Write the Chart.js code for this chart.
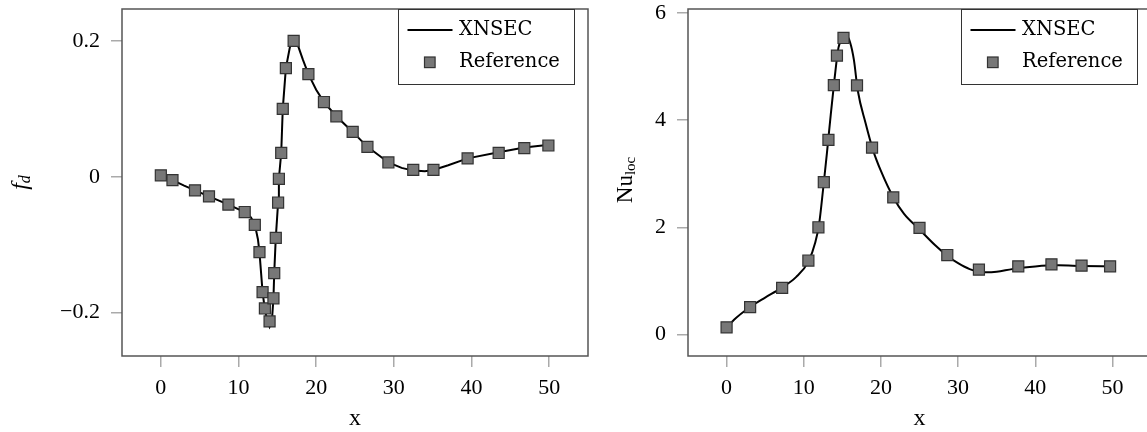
<!DOCTYPE html>
<html>
<head>
<meta charset="utf-8">
<script src="https://cdn.jsdelivr.net/npm/chart.js@4.4.0/dist/chart.umd.min.js"></script>
<style>
  html, body { margin: 0; padding: 0; background: #fff; overflow: hidden; width: 1147px; height: 432px; }
  #left { position: absolute; left: 0; top: 0; }
  #right { position: absolute; left: 600px; top: 0; }
</style>
</head>
<body>
<canvas id="left" width="600" height="432"></canvas>
<canvas id="right" width="560" height="432"></canvas>
<script>
// ---- left panel: drag coefficient f_d ----
const refLeftX = [0, 1.5, 4.4, 6.2, 8.7, 10.8, 12.1, 12.7, 13.1, 13.4, 14.0, 14.5, 14.6, 14.8, 15.1, 15.2, 15.5, 15.7, 16.1, 17.1, 19.0, 21.0, 22.6, 24.7, 26.6, 29.3, 32.5, 35.1, 39.5, 43.5, 46.8, 49.9];
const refLeftY = [0.002, -0.005, -0.020, -0.029, -0.041, -0.052, -0.071, -0.111, -0.170, -0.194, -0.213, -0.179, -0.142, -0.090, -0.038, -0.003, 0.035, 0.100, 0.160, 0.200, 0.151, 0.110, 0.089, 0.066, 0.044, 0.021, 0.010, 0.010, 0.027, 0.035, 0.042, 0.046];

const lineLeftX = [0, 1.5, 3, 4.4, 6.2, 8.7, 10.8, 11.6, 12.1, 12.5, 12.7, 13.1, 13.4, 13.7, 14.0, 14.3, 14.5, 14.6, 14.8, 15.1, 15.2, 15.5, 15.7, 16.1, 16.6, 17.1, 17.6, 18.3, 19.0, 20.0, 21.0, 22.6, 24.7, 26.6, 29.3, 31.0, 32.5, 34.0, 35.1, 37.0, 39.5, 43.5, 46.8, 50.0];
const lineLeftY = [0.002, -0.005, -0.013, -0.020, -0.029, -0.041, -0.052, -0.060, -0.070, -0.092, -0.111, -0.170, -0.196, -0.212, -0.221, -0.212, -0.179, -0.142, -0.090, -0.038, -0.003, 0.035, 0.100, 0.160, 0.190, 0.204, 0.195, 0.172, 0.151, 0.128, 0.110, 0.089, 0.066, 0.044, 0.021, 0.013, 0.009, 0.008, 0.010, 0.017, 0.027, 0.036, 0.043, 0.047];

// ---- right panel: local Nusselt number ----
const refRightX = [0, 3.05, 7.2, 10.6, 11.9, 12.6, 13.2, 13.9, 14.3, 15.15, 16.9, 18.85, 21.6, 25.0, 28.6, 32.7, 37.8, 42.1, 46.0, 49.7];
const refRightY = [0.135, 0.51, 0.87, 1.38, 2.0, 2.84, 3.63, 4.65, 5.20, 5.53, 4.645, 3.485, 2.558, 1.99, 1.483, 1.21, 1.272, 1.309, 1.285, 1.272];

const lineRightX = [0, 1, 3, 5, 7, 9, 10.6, 11.5, 12, 12.5, 13, 13.5, 14, 14.5, 15, 15.5, 16, 16.5, 17, 18, 19, 20, 21.6, 23, 25, 27, 28.6, 30, 31.5, 33.5, 35, 37, 40, 43, 46, 50];
const lineRightY = [0.12, 0.28, 0.51, 0.69, 0.86, 1.07, 1.36, 1.72, 2.07, 2.70, 3.38, 4.10, 4.78, 5.35, 5.52, 5.58, 5.45, 5.12, 4.55, 3.95, 3.43, 3.05, 2.56, 2.25, 1.96, 1.67, 1.47, 1.33, 1.22, 1.16, 1.17, 1.22, 1.27, 1.29, 1.28, 1.27];

const xTicks = [0, 10, 20, 30, 40, 50];
const leftYTicks = [-0.2, 0, 0.2];
const rightYTicks = [0, 2, 4, 6];
const legendLabels = ['XNSEC', 'Reference'];

const serif = '"Liberation Serif", "DejaVu Serif", serif';
const legendFamily = '"DejaVu Serif", serif';
const markerFill = '#777';
const markerEdge = '#333';

const toPoints = (xs, ys) => xs.map((x, i) => ({ x: x, y: ys[i] }));

// frame, boxed legend and axis titles (with subscripts)
const decor = {
  id: 'decor',
  afterDatasetsDraw(chart, args, opts) {
    const ctx = chart.ctx, a = chart.chartArea;
    ctx.save();
    ctx.strokeStyle = '#555';
    ctx.lineWidth = 1.5;
    ctx.strokeRect(a.left, a.top, a.right - a.left, a.bottom - a.top);

    // legend box
    const lw = 176, lh = 75;
    const lx = Math.round(a.right - 14.5 - lw), ly = Math.round(a.top);
    ctx.fillStyle = '#fff';
    ctx.fillRect(lx, ly, lw, lh);
    ctx.strokeStyle = '#333';
    ctx.lineWidth = 1;
    ctx.strokeRect(lx + 0.5, ly + 0.5, lw, lh);
    ctx.strokeStyle = '#000';
    ctx.lineWidth = 2;
    ctx.beginPath();
    ctx.moveTo(lx + 9.5, ly + 21);
    ctx.lineTo(lx + 54.5, ly + 21);
    ctx.stroke();
    ctx.fillStyle = markerFill;
    ctx.strokeStyle = markerEdge;
    ctx.lineWidth = 1.2;
    ctx.fillRect(lx + 26.5, ly + 48, 10.6, 10.6);
    ctx.strokeRect(lx + 26.5, ly + 48, 10.6, 10.6);
    ctx.fillStyle = '#000';
    ctx.font = '19.5px ' + legendFamily;
    ctx.textBaseline = 'middle';
    ctx.textAlign = 'left';
    ctx.fillText(legendLabels[0], lx + 61, ly + 20.5);
    ctx.fillText(legendLabels[1], lx + 61, ly + 53);

    // x title
    ctx.font = '24px ' + serif;
    ctx.textAlign = 'center';
    ctx.textBaseline = 'alphabetic';
    ctx.fillText('x', (a.left + a.right) / 2, 425);

    // rotated y title
    const parts = opts.ytitle;
    let total = 0;
    parts.forEach(p => { ctx.font = p.font; p.w = ctx.measureText(p.text).width; total += p.w; });
    ctx.translate(0, opts.ycenter);
    ctx.rotate(-Math.PI / 2);
    ctx.textAlign = 'left';
    let x = -total / 2;
    parts.forEach(p => {
      ctx.font = p.font;
      ctx.fillText(p.text, x, p.base);
      x += p.w;
    });
    ctx.restore();
  }
};

function fmt(v) {
  if (Math.abs(v) < 1e-9) return '0';
  const s = Number.isInteger(v) ? String(Math.abs(v)) : Math.abs(v).toFixed(1);
  return (v < 0 ? '\u2212' : '') + s;
}

function makeChart(id, cfg) {
  return new Chart(document.getElementById(id), {
    type: 'scatter',
    data: {
      datasets: [
        {
          label: legendLabels[1],
          data: toPoints(cfg.refX, cfg.refY),
          pointStyle: 'rect',
          pointRadius: 7.8,
          pointBackgroundColor: markerFill,
          pointBorderColor: markerEdge,
          pointBorderWidth: 1.2,
          showLine: false
        },
        {
          label: legendLabels[0],
          type: 'line',
          data: toPoints(cfg.lineX, cfg.lineY),
          borderColor: '#000',
          borderWidth: 2,
          pointRadius: 0,
          fill: false,
          cubicInterpolationMode: cfg.smooth ? 'monotone' : 'default',
          tension: 0
        }
      ]
    },
    options: {
      responsive: false,
      animation: false,
      devicePixelRatio: 1,
      layout: { padding: { top: 7, right: cfg.padRight, left: 0, bottom: 0 } },
      plugins: {
        legend: { display: false },
        tooltip: { enabled: false },
        decor: { ytitle: cfg.ytitle, ycenter: cfg.ycenter }
      },
      scales: {
        x: {
          type: 'linear',
          min: -5, max: 55,
          afterFit: s => { s.height = 76; s.paddingLeft = 0; s.paddingRight = 0; },
          afterBuildTicks: s => { s.ticks = xTicks.map(v => ({ value: v })); },
          ticks: { font: { family: serif, size: 22 }, color: '#000', padding: 8, callback: fmt, maxRotation: 0 },
          grid: { drawOnChartArea: false, drawTicks: true, tickLength: 11, color: '#aaa', lineWidth: 1.5 },
          border: { display: false }
        },
        y: {
          type: 'linear',
          min: cfg.ymin, max: cfg.ymax,
          afterFit: s => { s.width = cfg.yWidth; s.paddingTop = 0; s.paddingBottom = 0; },
          afterBuildTicks: s => { s.ticks = cfg.yTicks.map(v => ({ value: v })); },
          ticks: { font: { family: serif, size: 22 }, color: '#000', padding: 11, callback: fmt },
          grid: { drawOnChartArea: false, drawTicks: true, tickLength: 11, color: '#aaa', lineWidth: 1.5 },
          border: { display: false }
        }
      }
    },
    plugins: [decor]
  });
}

makeChart('left', {
  refX: refLeftX, refY: refLeftY, lineX: lineLeftX, lineY: lineLeftY, smooth: false,
  ymin: -0.264, ymax: 0.247, yTicks: leftYTicks, yWidth: 122, padRight: 12,
  ycenter: 182.5,
  ytitle: [
    { text: 'f', font: 'italic 24px ' + serif, base: 27 },
    { text: 'd', font: 'italic 16px ' + serif, base: 30 }
  ]
});

makeChart('right', {
  refX: refRightX, refY: refRightY, lineX: lineRightX, lineY: lineRightY, smooth: true,
  ymin: -0.40, ymax: 6.07, yTicks: rightYTicks, yWidth: 88, padRight: 6.5,
  ycenter: 180,
  ytitle: [
    { text: 'Nu', font: '23px ' + serif, base: 32 },
    { text: 'loc', font: '15px ' + serif, base: 35 }
  ]
});
</script>
</body>
</html>
